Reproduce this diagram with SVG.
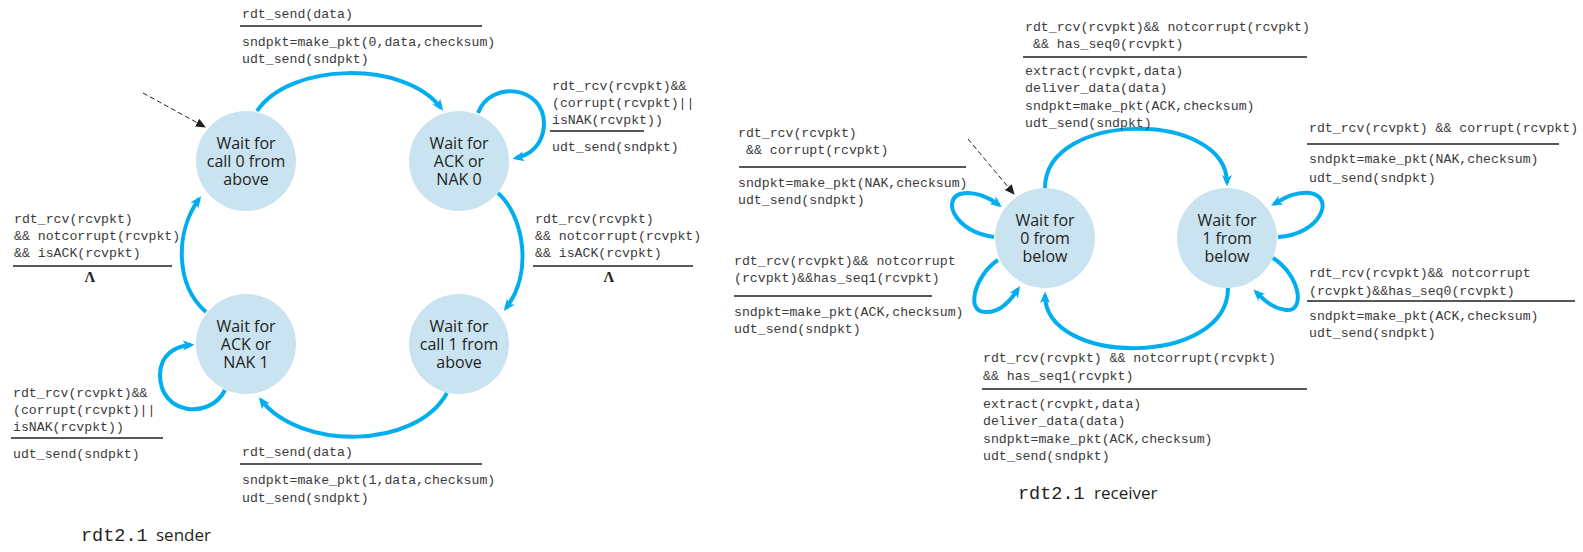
<svg xmlns="http://www.w3.org/2000/svg" width="1583" height="552" viewBox="0 0 1583 552">
<defs>
<marker id="ah" markerUnits="userSpaceOnUse" markerWidth="13" markerHeight="12" refX="8" refY="5" orient="auto">
<path d="M0,0 L11.5,5 L0,10 L3,5 z" fill="#00aeef"/>
</marker>
<marker id="dh" markerUnits="userSpaceOnUse" markerWidth="12" markerHeight="10" refX="9" refY="4.5" orient="auto">
<path d="M0,0 L10,4.5 L0,9 z" fill="#231f20"/>
</marker>
</defs>
<style>
.st circle{fill:#cae3f1}
.st text{font-family:"Open Sans","Noto Sans",sans-serif;font-size:16px;fill:#231f20;text-anchor:middle}
.m{font-family:"Liberation Mono","DejaVu Sans Mono",monospace;font-size:13.2px;fill:#3a3a3a}
.lam{font-family:"Liberation Serif",serif;font-size:15px;font-weight:bold;fill:#231f20;text-anchor:middle}
.bar{stroke:#231f20;stroke-width:1.3}
.c path.a{fill:none;stroke:#00aeef;stroke-width:4;marker-end:url(#ah)}
.c path.d{fill:none;stroke:#231f20;stroke-width:1;stroke-dasharray:5,3;marker-end:url(#dh)}
.tm{font-family:"Liberation Mono",monospace;font-size:18.5px;fill:#231f20}
.ts{font-family:"Open Sans","Noto Sans",sans-serif;font-size:17px;fill:#231f20}
</style>

<!-- Sender nodes -->
<g id="s_call0" class="st"><circle cx="246" cy="161" r="50"/><text x="246" y="149">Wait for<tspan x="246" dy="18">call 0 from</tspan><tspan x="246" dy="18">above</tspan></text></g>
<g id="s_acknak0" class="st"><circle cx="459" cy="161" r="50"/><text x="459" y="149">Wait for<tspan x="459" dy="18">ACK or</tspan><tspan x="459" dy="18">NAK 0</tspan></text></g>
<g id="s_call1" class="st"><circle cx="459" cy="344" r="50"/><text x="459" y="332">Wait for<tspan x="459" dy="18">call 1 from</tspan><tspan x="459" dy="18">above</tspan></text></g>
<g id="s_acknak1" class="st"><circle cx="246" cy="344" r="50"/><text x="246" y="332">Wait for<tspan x="246" dy="18">ACK or</tspan><tspan x="246" dy="18">NAK 1</tspan></text></g>

<!-- Receiver nodes -->
<g id="r_0below" class="st"><circle cx="1045" cy="238" r="50"/><text x="1045" y="226">Wait for<tspan x="1045" dy="18">0 from</tspan><tspan x="1045" dy="18">below</tspan></text></g>
<g id="r_1below" class="st"><circle cx="1227" cy="238" r="50"/><text x="1227" y="226">Wait for<tspan x="1227" dy="18">1 from</tspan><tspan x="1227" dy="18">below</tspan></text></g>

<!-- Connectors -->
<g id="connectors" class="c">
<path class="d" d="M143,93 L205,127"/>
<path class="a" d="M257,111 C290,62 405,60 441,108"/>
<path class="a" d="M478,113 C490,80 545,85 544,125 C543,145 530,155 516,158"/>
<path class="a" d="M498,193 C523,215 534,272 506,308"/>
<path class="a" d="M447,393 C415,450 300,450 261,400"/>
<path class="a" d="M225,390 C210,420 160,415 160,375 C160,355 175,346 191,345"/>
<path class="a" d="M206,312 C175,285 175,232 199,199"/>

<path class="d" d="M968,139 L1014,194"/>
<path class="a" d="M1045,188 C1045,110 1227,110 1227,183"/>
<path class="a" d="M1228,288 C1228,367 1045,367 1045,295"/>
<path class="a" d="M994,237 C955,232 942,200 960,194 C974,190 990,198 999,205"/>
<path class="a" d="M998,260 C975,275 965,312 985,312 C1000,313 1011,300 1018,289"/>
<path class="a" d="M1278,237 C1320,235 1336,197 1310,193 C1295,191 1283,199 1274,204"/>
<path class="a" d="M1273,258 C1300,275 1306,312 1286,310 C1271,308 1262,298 1256,292"/>
</g>

<!-- Sender labels -->
<g id="lbl_s_top">
<text class="m" x="242" y="18">rdt_send(data)</text>
<line class="bar" x1="240" y1="26" x2="482" y2="26"/>
<text class="m" x="242" y="46">sndpkt=make_pkt(0,data,checksum)</text>
<text class="m" x="242" y="63">udt_send(sndpkt)</text>
</g>
<g id="lbl_s_nak0">
<text class="m" x="552" y="90">rdt_rcv(rcvpkt)&amp;&amp;</text>
<text class="m" x="552" y="107">(corrupt(rcvpkt)||</text>
<text class="m" x="552" y="124">isNAK(rcvpkt))</text>
<line class="bar" x1="550" y1="131" x2="644" y2="131"/>
<text class="m" x="552" y="151">udt_send(sndpkt)</text>
</g>
<g id="lbl_s_right">
<text class="m" x="535" y="223">rdt_rcv(rcvpkt)</text>
<text class="m" x="535" y="240">&amp;&amp; notcorrupt(rcvpkt)</text>
<text class="m" x="535" y="257">&amp;&amp; isACK(rcvpkt)</text>
<line class="bar" x1="533" y1="266" x2="693" y2="266"/>
<text class="lam" x="609" y="282">Λ</text>
</g>
<g id="lbl_s_left">
<text class="m" x="14" y="223">rdt_rcv(rcvpkt)</text>
<text class="m" x="14" y="240">&amp;&amp; notcorrupt(rcvpkt)</text>
<text class="m" x="14" y="257">&amp;&amp; isACK(rcvpkt)</text>
<line class="bar" x1="13" y1="266" x2="172" y2="266"/>
<text class="lam" x="90" y="282">Λ</text>
</g>
<g id="lbl_s_nak1">
<text class="m" x="13" y="397">rdt_rcv(rcvpkt)&amp;&amp;</text>
<text class="m" x="13" y="414">(corrupt(rcvpkt)||</text>
<text class="m" x="13" y="431">isNAK(rcvpkt))</text>
<line class="bar" x1="11" y1="438" x2="163" y2="438"/>
<text class="m" x="13" y="458">udt_send(sndpkt)</text>
</g>
<g id="lbl_s_bottom">
<text class="m" x="242" y="456">rdt_send(data)</text>
<line class="bar" x1="240" y1="464" x2="482" y2="464"/>
<text class="m" x="242" y="484">sndpkt=make_pkt(1,data,checksum)</text>
<text class="m" x="242" y="502">udt_send(sndpkt)</text>
</g>
<text x="81" y="541"><tspan class="tm">rdt2.1</tspan><tspan class="ts" x="156">sender</tspan></text>

<!-- Receiver labels -->
<g id="lbl_r_top">
<text class="m" x="1025" y="31">rdt_rcv(rcvpkt)&amp;&amp; notcorrupt(rcvpkt)</text>
<text class="m" x="1033" y="48">&amp;&amp; has_seq0(rcvpkt)</text>
<line class="bar" x1="1023" y1="57" x2="1307" y2="57"/>
<text class="m" x="1025" y="75">extract(rcvpkt,data)</text>
<text class="m" x="1025" y="92">deliver_data(data)</text>
<text class="m" x="1025" y="110">sndpkt=make_pkt(ACK,checksum)</text>
<text class="m" x="1025" y="127">udt_send(sndpkt)</text>
</g>
<g id="lbl_r_left1">
<text class="m" x="738" y="137">rdt_rcv(rcvpkt)</text>
<text class="m" x="746" y="154">&amp;&amp; corrupt(rcvpkt)</text>
<line class="bar" x1="739" y1="167" x2="966" y2="167"/>
<text class="m" x="738" y="187">sndpkt=make_pkt(NAK,checksum)</text>
<text class="m" x="738" y="204">udt_send(sndpkt)</text>
</g>
<g id="lbl_r_left2">
<text class="m" x="734" y="265">rdt_rcv(rcvpkt)&amp;&amp; notcorrupt</text>
<text class="m" x="734" y="282">(rcvpkt)&amp;&amp;has_seq1(rcvpkt)</text>
<line class="bar" x1="734" y1="296" x2="932" y2="296"/>
<text class="m" x="734" y="316">sndpkt=make_pkt(ACK,checksum)</text>
<text class="m" x="734" y="333">udt_send(sndpkt)</text>
</g>
<g id="lbl_r_right1">
<text class="m" x="1309" y="132">rdt_rcv(rcvpkt) &amp;&amp; corrupt(rcvpkt)</text>
<line class="bar" x1="1307" y1="144" x2="1559" y2="144"/>
<text class="m" x="1309" y="163">sndpkt=make_pkt(NAK,checksum)</text>
<text class="m" x="1309" y="182">udt_send(sndpkt)</text>
</g>
<g id="lbl_r_right2">
<text class="m" x="1309" y="277">rdt_rcv(rcvpkt)&amp;&amp; notcorrupt</text>
<text class="m" x="1309" y="295">(rcvpkt)&amp;&amp;has_seq0(rcvpkt)</text>
<line class="bar" x1="1307" y1="301" x2="1575" y2="301"/>
<text class="m" x="1309" y="320">sndpkt=make_pkt(ACK,checksum)</text>
<text class="m" x="1309" y="337">udt_send(sndpkt)</text>
</g>
<g id="lbl_r_bottom">
<text class="m" x="983" y="362">rdt_rcv(rcvpkt) &amp;&amp; notcorrupt(rcvpkt)</text>
<text class="m" x="983" y="380">&amp;&amp; has_seq1(rcvpkt)</text>
<line class="bar" x1="982" y1="389" x2="1307" y2="389"/>
<text class="m" x="983" y="408">extract(rcvpkt,data)</text>
<text class="m" x="983" y="425">deliver_data(data)</text>
<text class="m" x="983" y="443">sndpkt=make_pkt(ACK,checksum)</text>
<text class="m" x="983" y="460">udt_send(sndpkt)</text>
</g>
<text x="1018" y="499"><tspan class="tm">rdt2.1</tspan><tspan class="ts" x="1094">receiver</tspan></text>
</svg>
